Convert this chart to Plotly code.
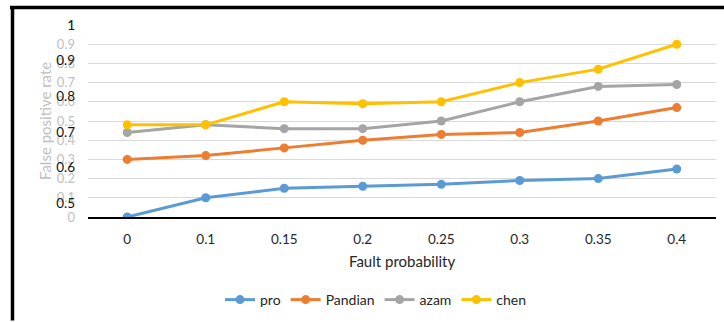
import plotly.graph_objects as go

categories = ["0", "0.1", "0.15", "0.2", "0.25", "0.3", "0.35", "0.4"]
pro = [0.0, 0.10, 0.15, 0.16, 0.17, 0.19, 0.20, 0.25]
pandian = [0.30, 0.32, 0.36, 0.40, 0.43, 0.44, 0.50, 0.57]
azam = [0.44, 0.48, 0.46, 0.46, 0.50, 0.60, 0.68, 0.69]
chen = [0.48, 0.48, 0.60, 0.59, 0.60, 0.70, 0.77, 0.90]

series = [("pro", pro, "#5B9BD5"), ("Pandian", pandian, "#ED7D31"),
          ("azam", azam, "#A5A5A5"), ("chen", chen, "#FFC000")]

y_ticks = [0, 0.1, 0.2, 0.3, 0.4, 0.5, 0.6, 0.7, 0.8, 0.9, 1]
y2_ticks = [0.5, 0.6, 0.7, 0.8, 0.9, 1]

FONT = "Lato, 'Open Sans', sans-serif"

fig = go.Figure()
for name, vals, col in series:
    fig.add_trace(go.Scatter(
        x=categories, y=vals, name=name, mode="lines+markers",
        line=dict(color=col, width=3), marker=dict(color=col, size=9),
    ))
# empty trace so the secondary (black) tick-label axis is drawn
fig.add_trace(go.Scatter(x=[], y=[], yaxis="y2", showlegend=False,
                         hoverinfo="skip"))

W, H = 724, 322
L, R, T, B = 88, 8, 25, 104
pw, ph = W - L - R, H - T - B

def px(x):
    return (x - L) / pw

def py(y):
    return (H - B - y) / ph

fig.update_layout(
    width=W, height=H,
    margin=dict(l=L, r=R, t=T, b=B),
    paper_bgcolor="white", plot_bgcolor="white",
    font=dict(family=FONT, size=13, color="#262626"),
    xaxis=dict(type="category", range=[-0.5, 7.5], showgrid=False,
               showline=True, linecolor="black", linewidth=1.5,
               ticks="", ticklabelstandoff=9,
               tickfont=dict(size=13.5, color="#262626"), fixedrange=True),
    yaxis=dict(range=[0, 1], tickvals=y_ticks, ticktext=[f"{v:g}" for v in y_ticks],
               showgrid=True, gridcolor="#D9D9D9", gridwidth=1.3,
               zeroline=False, showline=False, ticks="",
               ticklabelstandoff=12,
               tickfont=dict(size=13, color="#BFBFBF")),
    yaxis2=dict(range=[0.461, 1.0], tickvals=y2_ticks,
                ticktext=[f"{v:g}" for v in y2_ticks],
                overlaying="y", side="left", anchor="x",
                showgrid=False, zeroline=False, showline=False, ticks="",
                ticklabelstandoff=12,
                tickfont=dict(size=13.5, color="#111111")),
    legend=dict(orientation="h", x=px(376), xanchor="center",
                y=py(300), yanchor="middle",
                font=dict(size=14, color="#262626"), itemwidth=30,
                bgcolor="rgba(0,0,0,0)"),
    showlegend=True,
    annotations=[
        dict(text="False positive rate", textangle=-90, x=px(45), y=0.5,
             xanchor="center", yanchor="middle",
             xref="paper", yref="paper", showarrow=False,
             font=dict(size=15, color="#BFBFBF")),
        dict(text="Fault probability", x=px(402), y=py(262),
             xanchor="center", yanchor="middle",
             xref="paper", yref="paper", showarrow=False,
             font=dict(size=15, color="#262626")),
    ],
    shapes=[
        dict(type="line", xref="paper", yref="paper",
             x0=px(10), x1=px(724), y0=py(7.5), y1=py(7.5),
             line=dict(color="black", width=3.5)),
        dict(type="line", xref="paper", yref="paper",
             x0=px(12.5), x1=px(12.5), y0=py(6), y1=py(322),
             line=dict(color="black", width=3.5)),
    ],
)

fig.write_html("out.html")
